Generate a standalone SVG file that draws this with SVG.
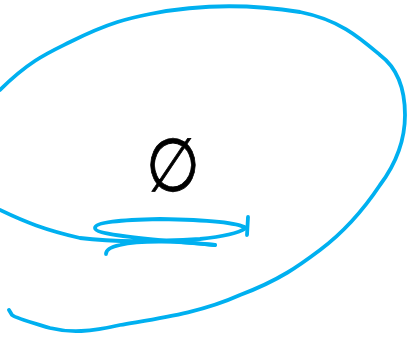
<svg xmlns="http://www.w3.org/2000/svg" width="412" height="339" viewBox="0 0 412 339">
<style>
.s{fill:none;stroke:#00b0f0;stroke-width:3.8;stroke-linecap:round;stroke-linejoin:round}
.t{font-family:"DejaVu Sans",sans-serif;font-size:62px;fill:#000;stroke:#000;stroke-width:0.7}
</style>
<rect width="412" height="339" fill="#fff"/>
<g id="label">
<text class="t" transform="translate(173,191) scale(1,1.2)" text-anchor="middle">∅</text>
</g>
<g id="connectors">
<path class="s" d="M0,90 C30,60 50,52 70,42 C110,22 130,18 150,14 C200,4 250,4 300,12 C340,20 360,38 380,55 C400,70 405,95 405,115 C405,140 395,165 380,185 C360,215 340,235 320,250 C300,265 280,280 240,295 C200,313 160,318 120,325 C90,332 70,333 50,328 C30,322 15,318 12,315 L9,310"/>
<path class="s" d="M0,210 C25,222 45,230 80,238 C110,242 150,242 200,239 C230,236 240,232 246,228 C240,224 220,220 160,219 C120,220 95,222 95,228 C95,234 130,238 215,245"/>
<path class="s" d="M215,245 C180,241 140,240 120,245 C110,247 106,250 106,254"/>
<path class="s" d="M248,217 L247,235"/>
</g>
</svg>
